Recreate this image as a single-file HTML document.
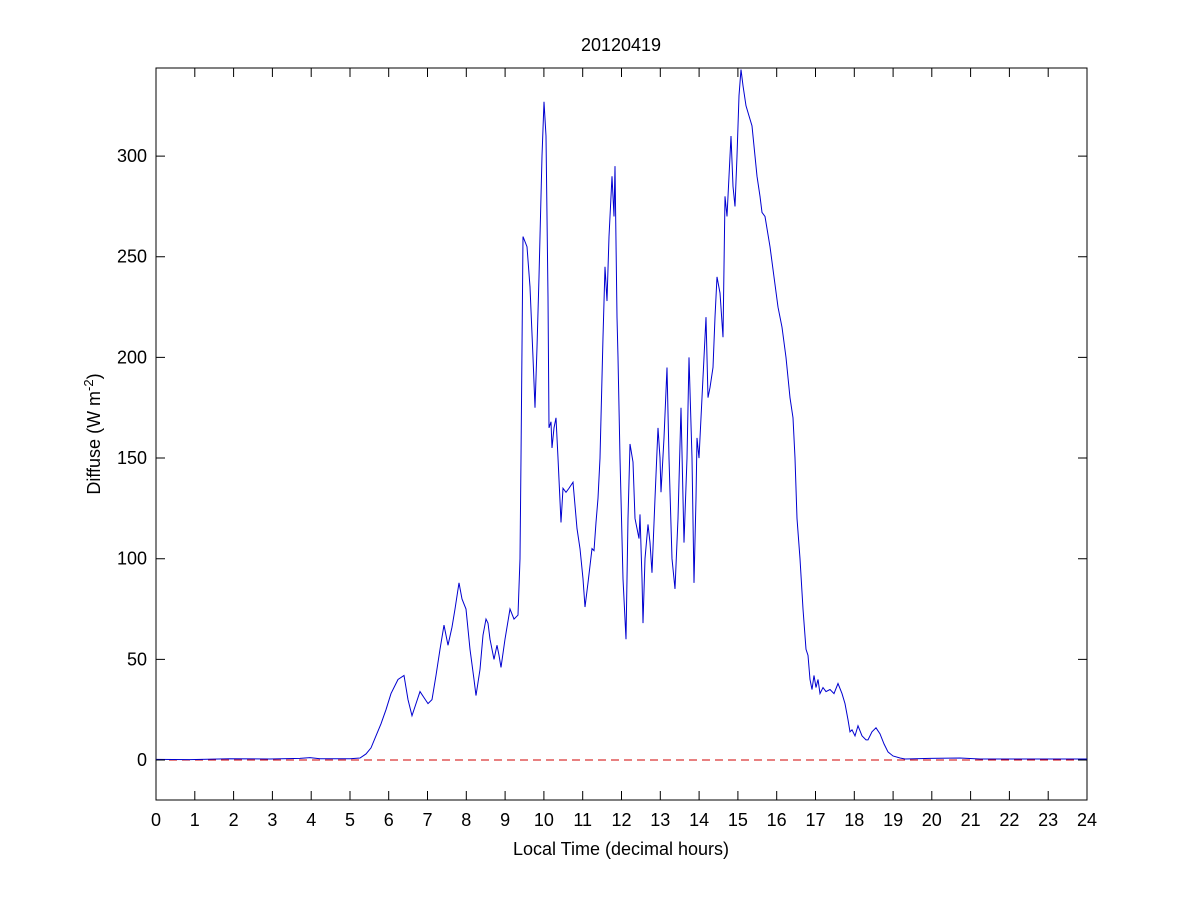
<!DOCTYPE html>
<html><head><meta charset="utf-8"><style>
html,body{margin:0;padding:0;background:#fff;}
svg text{font-family:"Liberation Sans",Arial,sans-serif;fill:#000;}
</style></head><body>
<svg width="1201" height="900" viewBox="0 0 1201 900" xmlns="http://www.w3.org/2000/svg">
<rect width="1201" height="900" fill="#fff"/>
<rect x="156" y="68" width="931" height="732" fill="#fff" stroke="#000" stroke-width="1"/>
<line x1="156" y1="760" x2="1087" y2="760" stroke="#d00000" stroke-width="1" stroke-dasharray="8,5"/>
<g transform="translate(0,760) scale(1,-2.013)">
<polyline fill="none" stroke="#0000d0" stroke-width="1" vector-effect="non-scaling-stroke" points="
156,0.3 190,0.2 230,0.6 270,0.5 300,0.8 310,1.2 320,0.6 350,0.6 360,1 366,3 371,6 376,12 381,18 386,25 391,33 398,40 404,42 408,30 412,22 416,28 420,34 424,31 428,28 432,30 436,42 440,55 444,67 448,57 452,66 455,75 459,88 462,80 466,75 470,55 474,40 476,32 480,45 483,62 486,70 488,68 490,60 494,50 497,57 499,52 501,46 505,60 510,75 514,70 518,72 520,100 521,150 523,260 527,255 530,235 533,200 535,175 537,205 539,240 542,300 544,327 546,310 548,230 549,165 551,168 552,155 554,165 556,170 558,150 561,118 563,135 566,133 569,135 573,138 577,115 580,105 583,90 585,76 588,88 592,105 594,104 596,118 598,130 600,150 603,210 605,245 607,228 609,260 612,290 614,270 615,295 617,220 618,200 620,150 621,130 623,90 626,60 628,120 630,157 633,148 635,120 637,115 639,110 640,122 642,90 643,68 645,100 648,117 650,108 652,93 655,130 658,165 660,150 661,133 664,160 667,195 669,150 672,100 675,85 678,120 681,175 683,130 684,108 687,150 689,200 692,150 694,88 696,130 697,160 699,150 702,180 706,220 708,180 710,185 713,195 715,220 717,240 720,232 723,210 725,280 727,270 729,290 731,310 733,285 735,275 737,300 739,330 741,343 743,335 746,325 749,320 752,315 755,300 757,290 760,280 762,272 765,270 770,255 774,240 778,225 782,215 786,200 790,180 793,170 795,150 797,120 800,100 803,75 806,55 808,52 810,40 812,35 814,42 816,36 818,40 820,33 823,36 826,34 830,35 834,33 838,38 842,33 845,28 848,20 850,14 852,15 855,12 858,17 862,12 866,10 868,10 872,14 876,16 880,13 884,8 888,4 893,2 900,1 905,0.5 930,0.8 960,1 980,0.5 1087,0.5"/>
</g>
<g font-size="18" text-anchor="middle">
<text x="156" y="826">0</text><text x="194.8" y="826">1</text><text x="233.6" y="826">2</text><text x="272.4" y="826">3</text><text x="311.2" y="826">4</text><text x="350" y="826">5</text><text x="388.7" y="826">6</text><text x="427.5" y="826">7</text><text x="466.3" y="826">8</text><text x="505.1" y="826">9</text><text x="543.9" y="826">10</text><text x="582.7" y="826">11</text><text x="621.5" y="826">12</text><text x="660.3" y="826">13</text><text x="699.1" y="826">14</text><text x="737.9" y="826">15</text><text x="776.7" y="826">16</text><text x="815.5" y="826">17</text><text x="854.3" y="826">18</text><text x="893.1" y="826">19</text><text x="931.8" y="826">20</text><text x="970.6" y="826">21</text><text x="1009.4" y="826">22</text><text x="1048.2" y="826">23</text><text x="1087" y="826">24</text>
</g>
<g font-size="18" text-anchor="end">
<text x="147" y="766">0</text><text x="147" y="665.4">50</text><text x="147" y="564.7">100</text><text x="147" y="464">150</text><text x="147" y="363.4">200</text><text x="147" y="262.7">250</text><text x="147" y="162.1">300</text>
</g>
<text x="621" y="51" font-size="18" text-anchor="middle">20120419</text>
<text x="621" y="855" font-size="18" text-anchor="middle">Local Time (decimal hours)</text>
<text transform="translate(100,434) rotate(-90)" font-size="18" text-anchor="middle">Diffuse (W m<tspan dy="-7" font-size="13">-2</tspan><tspan dy="7">)</tspan></text>
<path stroke="#000" stroke-width="1" fill="none" d="
M194.8,800v-9M233.6,800v-9M272.4,800v-9M311.2,800v-9M350,800v-9M388.7,800v-9M427.5,800v-9M466.3,800v-9M505.1,800v-9M543.9,800v-9M582.7,800v-9M621.5,800v-9M660.3,800v-9M699.1,800v-9M737.9,800v-9M776.7,800v-9M815.5,800v-9M854.3,800v-9M893.1,800v-9M931.8,800v-9M970.6,800v-9M1009.4,800v-9M1048.2,800v-9
M194.8,68v9M233.6,68v9M272.4,68v9M311.2,68v9M350,68v9M388.7,68v9M427.5,68v9M466.3,68v9M505.1,68v9M543.9,68v9M582.7,68v9M621.5,68v9M660.3,68v9M699.1,68v9M737.9,68v9M776.7,68v9M815.5,68v9M854.3,68v9M893.1,68v9M931.8,68v9M970.6,68v9M1009.4,68v9M1048.2,68v9
M156,760h9M156,659.4h9M156,558.7h9M156,458h9M156,357.4h9M156,256.7h9M156,156.1h9
M1087,760h-9M1087,659.4h-9M1087,558.7h-9M1087,458h-9M1087,357.4h-9M1087,256.7h-9M1087,156.1h-9"/>
</svg>
</body></html>
